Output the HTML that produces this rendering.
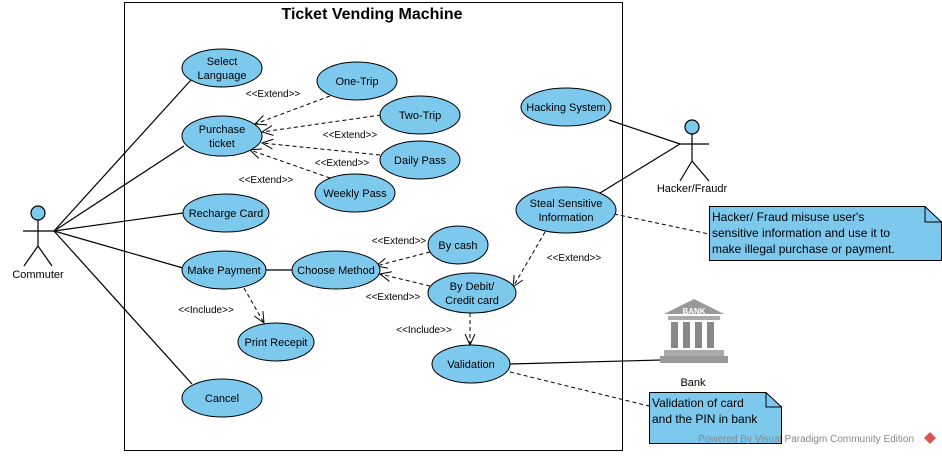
<!DOCTYPE html>
<html><head><meta charset="utf-8"><style>
body{margin:0;background:#fff;}
svg{display:block;font-family:"Liberation Sans",Arial,sans-serif;}
</style></head><body>
<svg width="942" height="456" viewBox="0 0 942 456" xmlns="http://www.w3.org/2000/svg">
<defs>
<marker id="a" markerWidth="12" markerHeight="12" refX="11" refY="6" orient="auto" markerUnits="userSpaceOnUse">
<path d="M0,1 L11,6 L0,11" fill="none" stroke="#000" stroke-width="1"/>
</marker>
</defs>
<rect x="124.5" y="2.5" width="498" height="448" fill="#fff" stroke="#000"/>
<text x="372" y="19" font-size="16" font-weight="bold" text-anchor="middle">Ticket Vending Machine</text>

<g stroke="#000" stroke-width="1.2" fill="none">
<line x1="54" y1="231" x2="191" y2="80"/>
<line x1="54" y1="231" x2="184" y2="146"/>
<line x1="54" y1="231" x2="183" y2="213"/>
<line x1="54" y1="231" x2="183" y2="268"/>
<line x1="54" y1="231" x2="192" y2="384"/>
<line x1="266" y1="270" x2="292" y2="270"/>
<line x1="609" y1="120" x2="680" y2="144"/>
<line x1="600" y1="193" x2="680" y2="144"/>
<line x1="510" y1="364" x2="662" y2="360"/>
</g>
<g stroke="#000" stroke-width="1" fill="none" stroke-dasharray="4,3">
<line x1="330" y1="96" x2="255" y2="124" marker-end="url(#a)"/>
<line x1="381" y1="115" x2="262" y2="132" marker-end="url(#a)"/>
<line x1="380" y1="155" x2="262" y2="143" marker-end="url(#a)"/>
<line x1="330" y1="178" x2="250" y2="150" marker-end="url(#a)"/>
<line x1="430" y1="252" x2="376" y2="266" marker-end="url(#a)"/>
<line x1="430" y1="286" x2="380" y2="274" marker-end="url(#a)"/>
<line x1="244" y1="288" x2="264" y2="323" marker-end="url(#a)"/>
<line x1="470" y1="313" x2="470" y2="345" marker-end="url(#a)"/>
<line x1="545" y1="232" x2="513" y2="287" marker-end="url(#a)"/>
<line x1="614" y1="214" x2="709" y2="234"/>
<line x1="510" y1="372" x2="649" y2="406"/>
</g>

<g fill="#7dc9ee" stroke="#000" stroke-width="1">
<ellipse cx="222" cy="68" rx="40" ry="19"/>
<ellipse cx="357" cy="81" rx="40" ry="19"/>
<ellipse cx="222" cy="136" rx="40" ry="20"/>
<ellipse cx="420" cy="115" rx="40" ry="19"/>
<ellipse cx="420" cy="160" rx="40" ry="19"/>
<ellipse cx="355" cy="193" rx="40" ry="19"/>
<ellipse cx="226" cy="213" rx="43" ry="19"/>
<ellipse cx="224" cy="270" rx="42" ry="19"/>
<ellipse cx="336" cy="270" rx="44" ry="19"/>
<ellipse cx="458" cy="245" rx="30" ry="19"/>
<ellipse cx="472" cy="293" rx="44" ry="20"/>
<ellipse cx="276" cy="342" rx="38" ry="19"/>
<ellipse cx="471" cy="364" rx="39" ry="19"/>
<ellipse cx="222" cy="398" rx="40" ry="19"/>
<ellipse cx="566" cy="107" rx="45" ry="19"/>
<ellipse cx="566" cy="210" rx="50" ry="23"/>
</g>
<g font-size="11" text-anchor="middle" fill="#000">
<text x="222" y="65">Select</text><text x="222" y="79">Language</text>
<text x="357" y="85">One-Trip</text>
<text x="222" y="133">Purchase</text><text x="222" y="147">ticket</text>
<text x="420" y="119">Two-Trip</text>
<text x="420" y="164">Daily Pass</text>
<text x="355" y="197">Weekly Pass</text>
<text x="226" y="217">Recharge Card</text>
<text x="224" y="274">Make Payment</text>
<text x="336" y="274">Choose Method</text>
<text x="458" y="249">By cash</text>
<text x="472" y="290">By Debit/</text><text x="472" y="304">Credit card</text>
<text x="276" y="346">Print Recepit</text>
<text x="471" y="368">Validation</text>
<text x="222" y="402">Cancel</text>
<text x="566" y="111">Hacking System</text>
<text x="566" y="207">Steal Sensitive</text><text x="566" y="221">Information</text>
</g>
<g font-size="10" text-anchor="middle" fill="#000">
<text x="273" y="97">&lt;&lt;Extend&gt;&gt;</text>
<text x="350" y="138">&lt;&lt;Extend&gt;&gt;</text>
<text x="342" y="166">&lt;&lt;Extend&gt;&gt;</text>
<text x="266" y="183">&lt;&lt;Extend&gt;&gt;</text>
<text x="399" y="244">&lt;&lt;Extend&gt;&gt;</text>
<text x="393" y="300">&lt;&lt;Extend&gt;&gt;</text>
<text x="206" y="313">&lt;&lt;Include&gt;&gt;</text>
<text x="424" y="333">&lt;&lt;Include&gt;&gt;</text>
<text x="574" y="261">&lt;&lt;Extend&gt;&gt;</text>
</g>

<!-- Commuter -->
<g stroke="#000" stroke-width="1.2" fill="none">
<circle cx="38" cy="213" r="7" fill="#7dc9ee"/>
<line x1="38" y1="220" x2="38" y2="246"/>
<line x1="23" y1="231" x2="54" y2="231"/>
<line x1="38" y1="246" x2="24" y2="266"/>
<line x1="38" y1="246" x2="52" y2="266"/>
</g>
<text x="38" y="278" font-size="11" text-anchor="middle">Commuter</text>
<!-- Hacker -->
<g stroke="#000" stroke-width="1.2" fill="none">
<circle cx="692" cy="127" r="7" fill="#7dc9ee"/>
<line x1="692" y1="134" x2="692" y2="161"/>
<line x1="680" y1="144" x2="709" y2="144"/>
<line x1="692" y1="161" x2="680" y2="181"/>
<line x1="692" y1="161" x2="709" y2="181"/>
</g>
<text x="692" y="192" font-size="11" text-anchor="middle">Hacker/Fraudr</text>

<!-- Bank -->
<g>
<polygon points="694,299 724,314 664,314" fill="#999"/>
<text x="694" y="314" font-size="8" font-weight="bold" fill="#fff" text-anchor="middle">BANK</text>
<rect x="668" y="316" width="52" height="4" fill="#aaa"/>
<rect x="671" y="322" width="7" height="26" fill="#888"/>
<rect x="683" y="322" width="7" height="26" fill="#888"/>
<rect x="695" y="322" width="7" height="26" fill="#888"/>
<rect x="707" y="322" width="7" height="26" fill="#888"/>
<rect x="664" y="350" width="60" height="6" fill="#aaa"/>
<rect x="660" y="356" width="68" height="7" fill="#999"/>
</g>
<text x="693" y="386" font-size="11" text-anchor="middle">Bank</text>

<!-- Notes -->
<path d="M709.5,206.5 H925 L941.5,222 V260.5 H709.5 Z" fill="#7dc9ee" stroke="#000"/>
<path d="M925,206.5 L925,222 L941.5,222" fill="none" stroke="#000"/>
<g font-size="12"><text x="712" y="221">Hacker/ Fraud misuse user's</text>
<text x="712" y="237">sensitive information and use it to</text>
<text x="712" y="253">make illegal purchase or payment.</text></g>

<path d="M649.5,392.5 H766 L781.5,407 V443.5 H649.5 Z" fill="#7dc9ee" stroke="#000"/>
<path d="M766,392.5 L766,407 L781.5,407" fill="none" stroke="#000"/>
<g font-size="12"><text x="652" y="407">Validation of card</text>
<text x="652" y="423">and the PIN in bank</text></g>

<text x="698" y="442" font-size="10" fill="#888">Powered By Visual Paradigm Community Edition</text>
<polygon points="930,432 936,438 930,444 924,438" fill="#d9534f"/>
</svg>
</body></html>
